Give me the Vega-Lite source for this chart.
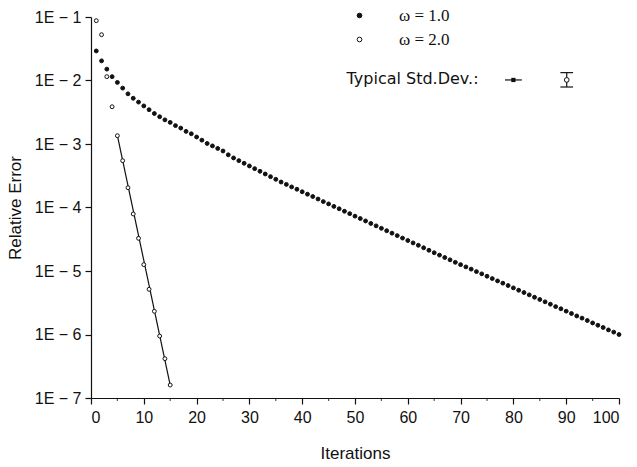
{
  "$schema": "https://vega.github.io/schema/vega-lite/v6.json",
  "width": 528,
  "height": 381,
  "autosize": {"type": "none"},
  "padding": {"left": 91, "top": 17, "right": 18, "bottom": 69},
  "background": "white",
  "config": {
    "view": {"stroke": null},
    "font": "Liberation Sans",
    "axis": {
      "domainColor": "#111",
      "domainWidth": 1.2,
      "tickColor": "#111",
      "tickWidth": 1.2,
      "labelColor": "#111",
      "titleColor": "#111",
      "labelFontSize": 16,
      "titleFontSize": 17,
      "titleFontWeight": "normal",
      "grid": false
    }
  },
  "datasets": {
    "pts": [
      {"iter": 1, "err": 0.0292, "series": "ω = 1.0"},
      {"iter": 2, "err": 0.0204, "series": "ω = 1.0"},
      {"iter": 3, "err": 0.0151, "series": "ω = 1.0"},
      {"iter": 4, "err": 0.0115, "series": "ω = 1.0"},
      {"iter": 5, "err": 0.00933, "series": "ω = 1.0"},
      {"iter": 6, "err": 0.00759, "series": "ω = 1.0"},
      {"iter": 7, "err": 0.00617, "series": "ω = 1.0"},
      {"iter": 8, "err": 0.00525, "series": "ω = 1.0"},
      {"iter": 9, "err": 0.00457, "series": "ω = 1.0"},
      {"iter": 10, "err": 0.00398, "series": "ω = 1.0"},
      {"iter": 11, "err": 0.00347, "series": "ω = 1.0"},
      {"iter": 12, "err": 0.00302, "series": "ω = 1.0"},
      {"iter": 13, "err": 0.00269, "series": "ω = 1.0"},
      {"iter": 14, "err": 0.0024, "series": "ω = 1.0"},
      {"iter": 15, "err": 0.00219, "series": "ω = 1.0"},
      {"iter": 16, "err": 0.00195, "series": "ω = 1.0"},
      {"iter": 17, "err": 0.00178, "series": "ω = 1.0"},
      {"iter": 18, "err": 0.00158, "series": "ω = 1.0"},
      {"iter": 19, "err": 0.00145, "series": "ω = 1.0"},
      {"iter": 20, "err": 0.00129, "series": "ω = 1.0"},
      {"iter": 21, "err": 0.00115, "series": "ω = 1.0"},
      {"iter": 22, "err": 0.00102, "series": "ω = 1.0"},
      {"iter": 23, "err": 0.000933, "series": "ω = 1.0"},
      {"iter": 24, "err": 0.000851, "series": "ω = 1.0"},
      {"iter": 25, "err": 0.000776, "series": "ω = 1.0"},
      {"iter": 26, "err": 0.000676, "series": "ω = 1.0"},
      {"iter": 27, "err": 0.000603, "series": "ω = 1.0"},
      {"iter": 28, "err": 0.000547, "series": "ω = 1.0"},
      {"iter": 29, "err": 0.000497, "series": "ω = 1.0"},
      {"iter": 30, "err": 0.000451, "series": "ω = 1.0"},
      {"iter": 31, "err": 0.000409, "series": "ω = 1.0"},
      {"iter": 32, "err": 0.000372, "series": "ω = 1.0"},
      {"iter": 33, "err": 0.000337, "series": "ω = 1.0"},
      {"iter": 34, "err": 0.000306, "series": "ω = 1.0"},
      {"iter": 35, "err": 0.000278, "series": "ω = 1.0"},
      {"iter": 36, "err": 0.000252, "series": "ω = 1.0"},
      {"iter": 37, "err": 0.000231, "series": "ω = 1.0"},
      {"iter": 38, "err": 0.000211, "series": "ω = 1.0"},
      {"iter": 39, "err": 0.000194, "series": "ω = 1.0"},
      {"iter": 40, "err": 0.000177, "series": "ω = 1.0"},
      {"iter": 41, "err": 0.000162, "series": "ω = 1.0"},
      {"iter": 42, "err": 0.000149, "series": "ω = 1.0"},
      {"iter": 43, "err": 0.000136, "series": "ω = 1.0"},
      {"iter": 44, "err": 0.000124, "series": "ω = 1.0"},
      {"iter": 45, "err": 0.000114, "series": "ω = 1.0"},
      {"iter": 46, "err": 0.000104, "series": "ω = 1.0"},
      {"iter": 47, "err": 0.0000955, "series": "ω = 1.0"},
      {"iter": 48, "err": 0.0000873, "series": "ω = 1.0"},
      {"iter": 49, "err": 0.00008, "series": "ω = 1.0"},
      {"iter": 50, "err": 0.0000731, "series": "ω = 1.0"},
      {"iter": 51, "err": 0.000067, "series": "ω = 1.0"},
      {"iter": 52, "err": 0.0000614, "series": "ω = 1.0"},
      {"iter": 53, "err": 0.0000561, "series": "ω = 1.0"},
      {"iter": 54, "err": 0.0000514, "series": "ω = 1.0"},
      {"iter": 55, "err": 0.000047, "series": "ω = 1.0"},
      {"iter": 56, "err": 0.0000431, "series": "ω = 1.0"},
      {"iter": 57, "err": 0.0000394, "series": "ω = 1.0"},
      {"iter": 58, "err": 0.0000361, "series": "ω = 1.0"},
      {"iter": 59, "err": 0.000033, "series": "ω = 1.0"},
      {"iter": 60, "err": 0.0000302, "series": "ω = 1.0"},
      {"iter": 61, "err": 0.0000277, "series": "ω = 1.0"},
      {"iter": 62, "err": 0.0000254, "series": "ω = 1.0"},
      {"iter": 63, "err": 0.0000232, "series": "ω = 1.0"},
      {"iter": 64, "err": 0.0000212, "series": "ω = 1.0"},
      {"iter": 65, "err": 0.0000194, "series": "ω = 1.0"},
      {"iter": 66, "err": 0.0000178, "series": "ω = 1.0"},
      {"iter": 67, "err": 0.0000163, "series": "ω = 1.0"},
      {"iter": 68, "err": 0.000015, "series": "ω = 1.0"},
      {"iter": 69, "err": 0.0000137, "series": "ω = 1.0"},
      {"iter": 70, "err": 0.0000126, "series": "ω = 1.0"},
      {"iter": 71, "err": 0.0000116, "series": "ω = 1.0"},
      {"iter": 72, "err": 0.0000107, "series": "ω = 1.0"},
      {"iter": 73, "err": 0.00000979, "series": "ω = 1.0"},
      {"iter": 74, "err": 0.00000902, "series": "ω = 1.0"},
      {"iter": 75, "err": 0.00000828, "series": "ω = 1.0"},
      {"iter": 76, "err": 0.0000076, "series": "ω = 1.0"},
      {"iter": 77, "err": 0.00000698, "series": "ω = 1.0"},
      {"iter": 78, "err": 0.00000643, "series": "ω = 1.0"},
      {"iter": 79, "err": 0.0000059, "series": "ω = 1.0"},
      {"iter": 80, "err": 0.00000542, "series": "ω = 1.0"},
      {"iter": 81, "err": 0.00000498, "series": "ω = 1.0"},
      {"iter": 82, "err": 0.00000458, "series": "ω = 1.0"},
      {"iter": 83, "err": 0.00000421, "series": "ω = 1.0"},
      {"iter": 84, "err": 0.00000386, "series": "ω = 1.0"},
      {"iter": 85, "err": 0.00000356, "series": "ω = 1.0"},
      {"iter": 86, "err": 0.00000327, "series": "ω = 1.0"},
      {"iter": 87, "err": 0.000003, "series": "ω = 1.0"},
      {"iter": 88, "err": 0.00000275, "series": "ω = 1.0"},
      {"iter": 89, "err": 0.00000254, "series": "ω = 1.0"},
      {"iter": 90, "err": 0.00000233, "series": "ω = 1.0"},
      {"iter": 91, "err": 0.00000214, "series": "ω = 1.0"},
      {"iter": 92, "err": 0.00000196, "series": "ω = 1.0"},
      {"iter": 93, "err": 0.00000181, "series": "ω = 1.0"},
      {"iter": 94, "err": 0.00000166, "series": "ω = 1.0"},
      {"iter": 95, "err": 0.00000152, "series": "ω = 1.0"},
      {"iter": 96, "err": 0.0000014, "series": "ω = 1.0"},
      {"iter": 97, "err": 0.00000129, "series": "ω = 1.0"},
      {"iter": 98, "err": 0.00000118, "series": "ω = 1.0"},
      {"iter": 99, "err": 0.00000109, "series": "ω = 1.0"},
      {"iter": 100, "err": 0.000001, "series": "ω = 1.0"},
      {"iter": 1, "err": 0.0875, "series": "ω = 2.0"},
      {"iter": 2, "err": 0.0526, "series": "ω = 2.0"},
      {"iter": 3, "err": 0.0115, "series": "ω = 2.0"},
      {"iter": 4, "err": 0.00386, "series": "ω = 2.0"},
      {"iter": 5, "err": 0.00135, "series": "ω = 2.0"},
      {"iter": 6, "err": 0.000546, "series": "ω = 2.0"},
      {"iter": 7, "err": 0.000205, "series": "ω = 2.0"},
      {"iter": 8, "err": 0.0000791, "series": "ω = 2.0"},
      {"iter": 9, "err": 0.0000327, "series": "ω = 2.0"},
      {"iter": 10, "err": 0.0000126, "series": "ω = 2.0"},
      {"iter": 11, "err": 0.00000515, "series": "ω = 2.0"},
      {"iter": 12, "err": 0.00000232, "series": "ω = 2.0"},
      {"iter": 13, "err": 0.000000946, "series": "ω = 2.0"},
      {"iter": 14, "err": 0.000000416, "series": "ω = 2.0"},
      {"iter": 15, "err": 0.00000016, "series": "ω = 2.0"}
    ],
    "fit": [
      {"iter": 5, "err": 0.00135},
      {"iter": 15, "err": 0.00000016}
    ],
    "minor": [
      {"iter": 5}, {"iter": 15}, {"iter": 25}, {"iter": 35}, {"iter": 45},
      {"iter": 55}, {"iter": 65}, {"iter": 75}, {"iter": 85}, {"iter": 95}
    ]
  },
  "layer": [
    {
      "data": {"name": "fit"},
      "mark": {"type": "line", "color": "#111", "strokeWidth": 1.2},
      "encoding": {
        "x": {
          "field": "iter", "type": "quantitative",
          "scale": {"domain": [0, 100], "nice": false, "zero": false},
          "axis": {
            "orient": "bottom",
            "values": [0, 10, 20, 30, 40, 50, 60, 70, 80, 90, 100],
            "tickSize": 6, "labelPadding": 5,
            "title": "Iterations", "titlePadding": 20
          }
        },
        "y": {
          "field": "err", "type": "quantitative",
          "scale": {"type": "log", "domain": [1e-7, 0.1], "nice": false},
          "axis": {
            "values": [1e-7, 1e-6, 1e-5, 1e-4, 1e-3, 1e-2, 1e-1],
            "labelExpr": "'1E − ' + round(-log(datum.value)/LN10)",
            "tickSize": 6, "labelPadding": 4,
            "title": "Relative Error", "titlePadding": 10
          }
        }
      }
    },
    {
      "data": {"name": "pts"},
      "mark": {"type": "point", "filled": true, "stroke": "#111", "strokeWidth": 1, "size": 15, "opacity": 1},
      "encoding": {
        "x": {"field": "iter", "type": "quantitative"},
        "y": {"field": "err", "type": "quantitative"},
        "fill": {
          "field": "series", "type": "nominal",
          "scale": {"domain": ["ω = 1.0", "ω = 2.0"], "range": ["#111", "white"]},
          "legend": {
            "orient": "none", "legendX": 260, "legendY": -10,
            "title": null, "padding": 0,
            "labelFont": "Liberation Serif", "labelFontSize": 17, "labelColor": "#111",
            "labelOffset": 31, "rowPadding": 6,
            "symbolType": "circle", "symbolSize": 22,
            "symbolStrokeColor": "#111", "symbolStrokeWidth": 1
          }
        }
      }
    },
    {
      "data": {"name": "minor"},
      "mark": {"type": "tick", "orient": "vertical", "color": "#111", "thickness": 1.2, "size": 3, "yOffset": 1.5},
      "encoding": {
        "x": {"field": "iter", "type": "quantitative"},
        "y": {"datum": 1e-7}
      }
    },
    {
      "data": {"values": [{}]},
      "mark": {"type": "text", "align": "left", "baseline": "middle", "fontSize": 16, "color": "#111", "font": "DejaVu Sans"},
      "encoding": {
        "x": {"datum": 48.4},
        "y": {"datum": 0.0105},
        "text": {"value": "Typical Std.Dev.:"}
      }
    },
    {
      "data": {"values": [{}]},
      "mark": {"type": "rule", "color": "#111", "strokeWidth": 1.2},
      "encoding": {"x": {"datum": 78.4}, "x2": {"datum": 81.6}, "y": {"datum": 0.0102}}
    },
    {
      "data": {"values": [{}]},
      "mark": {"type": "point", "shape": "square", "filled": true, "color": "#111", "size": 18, "opacity": 1},
      "encoding": {"x": {"datum": 80}, "y": {"datum": 0.0102}}
    },
    {
      "data": {"values": [{}]},
      "mark": {"type": "rule", "color": "#111", "strokeWidth": 1.2},
      "encoding": {"x": {"datum": 90.1}, "y": {"datum": 0.0133}, "y2": {"datum": 0.0079}}
    },
    {
      "data": {"values": [{}]},
      "mark": {"type": "rule", "color": "#111", "strokeWidth": 1.2},
      "encoding": {"x": {"datum": 88.9}, "x2": {"datum": 91.3}, "y": {"datum": 0.0133}}
    },
    {
      "data": {"values": [{}]},
      "mark": {"type": "rule", "color": "#111", "strokeWidth": 1.2},
      "encoding": {"x": {"datum": 88.9}, "x2": {"datum": 91.3}, "y": {"datum": 0.0079}}
    },
    {
      "data": {"values": [{}]},
      "mark": {"type": "point", "shape": "circle", "filled": true, "fill": "white", "stroke": "#111", "strokeWidth": 1, "size": 22, "opacity": 1},
      "encoding": {"x": {"datum": 90.1}, "y": {"datum": 0.0102}}
    }
  ]
}
